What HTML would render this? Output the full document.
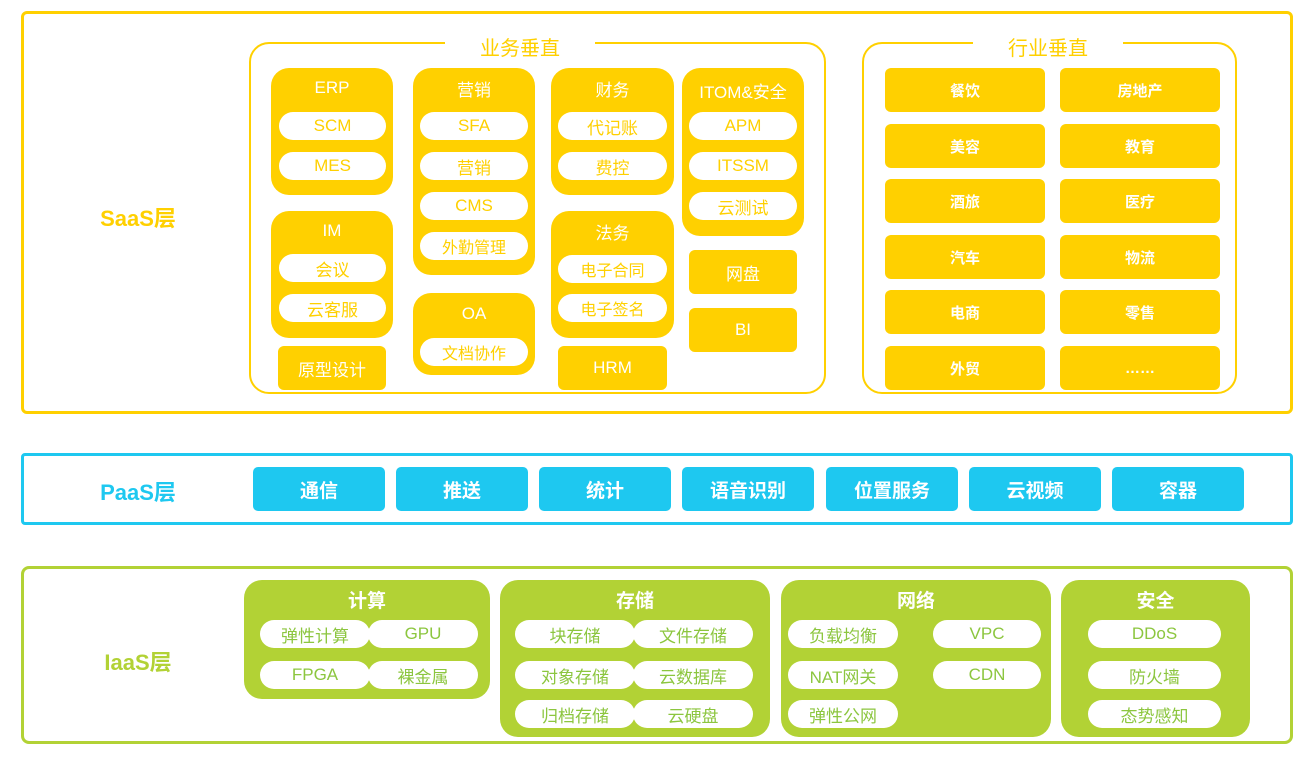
<!DOCTYPE html>
<html><head><meta charset="utf-8"><style>
*{margin:0;padding:0;box-sizing:border-box}
body{width:1316px;height:757px;background:#fff;position:relative;overflow:hidden;font-family:"Liberation Sans","Noto Sans CJK SC",sans-serif}
div{position:absolute}
.c{display:flex;align-items:center;justify-content:center;white-space:nowrap}
.y{background:#ffd000;color:#fff}
.yb{background:#ffd000;border-radius:18px}
.yp{background:#fff;color:#ffd000;border-radius:14px;font-size:17px;height:28px}
.ys{background:#ffd000;color:#fff;border-radius:6px;font-size:17px}
.yh{color:#fff;font-size:17px;height:24px}
.ind{background:#ffd000;color:#fff;border-radius:6px;font-weight:bold;font-size:15px;width:160px;height:44px}
.pa{background:#1ec8f0;color:#fff;border-radius:5px;font-weight:bold;font-size:19px;width:132px;height:44px;top:467px}
.g{background:#b2d235;border-radius:18px}
.gt{color:#fff;font-weight:bold;font-size:19px;height:24px;top:587px}
.gp{background:#fff;color:#8cc63f;border-radius:14px;font-size:17px;height:28px}
.lab{font-weight:bold;font-size:22px}
</style></head><body>
<!-- SaaS -->
<div style="left:21px;top:11px;width:1272px;height:403px;border:3px solid #ffd000;border-radius:6px"></div>
<div class="lab c" style="left:88px;top:202px;width:100px;height:30px;color:#ffd000">SaaS层</div>
<div style="left:249px;top:42px;width:577px;height:352px;border:2px solid #ffd000;border-radius:20px"></div>
<div class="c" style="left:445px;top:32px;width:150px;height:28px;background:#fff;color:#ffd000;font-size:20px">业务垂直</div>
<div style="left:862px;top:42px;width:375px;height:352px;border:2px solid #ffd000;border-radius:20px"></div>
<div class="c" style="left:973px;top:32px;width:150px;height:28px;background:#fff;color:#ffd000;font-size:20px">行业垂直</div>

<div class="yb" style="left:271px;top:68px;width:122px;height:127px"></div>
<div class="yh c" style="left:271px;top:76px;width:122px">ERP</div>
<div class="yp c" style="left:279px;top:112px;width:107px">SCM</div>
<div class="yp c" style="left:279px;top:152px;width:107px">MES</div>

<div class="yb" style="left:271px;top:211px;width:122px;height:127px"></div>
<div class="yh c" style="left:271px;top:219px;width:122px">IM</div>
<div class="yp c" style="left:279px;top:254px;width:107px">会议</div>
<div class="yp c" style="left:279px;top:294px;width:107px">云客服</div>
<div class="ys c" style="left:278px;top:346px;width:108px;height:44px">原型设计</div>

<div class="yb" style="left:413px;top:68px;width:122px;height:207px"></div>
<div class="yh c" style="left:413px;top:76px;width:122px">营销</div>
<div class="yp c" style="left:420px;top:112px;width:108px">SFA</div>
<div class="yp c" style="left:420px;top:152px;width:108px">营销</div>
<div class="yp c" style="left:420px;top:192px;width:108px">CMS</div>
<div class="yp c" style="left:420px;top:232px;width:108px;font-size:16px">外勤管理</div>
<div class="yb" style="left:413px;top:293px;width:122px;height:82px"></div>
<div class="yh c" style="left:413px;top:302px;width:122px">OA</div>
<div class="yp c" style="left:420px;top:338px;width:108px;font-size:16px">文档协作</div>

<div class="yb" style="left:551px;top:68px;width:123px;height:127px"></div>
<div class="yh c" style="left:551px;top:76px;width:123px">财务</div>
<div class="yp c" style="left:558px;top:112px;width:109px">代记账</div>
<div class="yp c" style="left:558px;top:152px;width:109px">费控</div>
<div class="yb" style="left:551px;top:211px;width:123px;height:127px"></div>
<div class="yh c" style="left:551px;top:219px;width:123px">法务</div>
<div class="yp c" style="left:558px;top:255px;width:109px;font-size:16px">电子合同</div>
<div class="yp c" style="left:558px;top:294px;width:109px;font-size:16px">电子签名</div>
<div class="ys c" style="left:558px;top:346px;width:109px;height:44px">HRM</div>

<div class="yb" style="left:682px;top:68px;width:122px;height:168px"></div>
<div class="yh c" style="left:682px;top:78px;width:122px">ITOM&amp;安全</div>
<div class="yp c" style="left:689px;top:112px;width:108px">APM</div>
<div class="yp c" style="left:689px;top:152px;width:108px">ITSSM</div>
<div class="yp c" style="left:689px;top:192px;width:108px">云测试</div>
<div class="ys c" style="left:689px;top:250px;width:108px;height:44px">网盘</div>
<div class="ys c" style="left:689px;top:308px;width:108px;height:44px">BI</div>

<div class="ind c" style="left:885px;top:68px">餐饮</div><div class="ind c" style="left:1060px;top:68px">房地产</div>
<div class="ind c" style="left:885px;top:124px">美容</div><div class="ind c" style="left:1060px;top:124px">教育</div>
<div class="ind c" style="left:885px;top:179px">酒旅</div><div class="ind c" style="left:1060px;top:179px">医疗</div>
<div class="ind c" style="left:885px;top:235px">汽车</div><div class="ind c" style="left:1060px;top:235px">物流</div>
<div class="ind c" style="left:885px;top:290px">电商</div><div class="ind c" style="left:1060px;top:290px">零售</div>
<div class="ind c" style="left:885px;top:346px">外贸</div><div class="ind c" style="left:1060px;top:346px">……</div>

<!-- PaaS -->
<div style="left:21px;top:453px;width:1272px;height:72px;border:3px solid #1ec8f0;border-radius:4px"></div>
<div class="lab c" style="left:88px;top:476px;width:100px;height:30px;color:#1ec8f0">PaaS层</div>
<div class="pa c" style="left:253px">通信</div>
<div class="pa c" style="left:396px">推送</div>
<div class="pa c" style="left:539px">统计</div>
<div class="pa c" style="left:682px">语音识别</div>
<div class="pa c" style="left:826px">位置服务</div>
<div class="pa c" style="left:969px">云视频</div>
<div class="pa c" style="left:1112px">容器</div>

<!-- IaaS -->
<div style="left:21px;top:566px;width:1272px;height:178px;border:3px solid #b2d235;border-radius:8px"></div>
<div class="lab c" style="left:88px;top:646px;width:100px;height:30px;color:#b2d235">IaaS层</div>

<div class="g" style="left:244px;top:580px;width:246px;height:119px"></div>
<div class="gt c" style="left:244px;width:246px">计算</div>
<div class="gp c" style="left:260px;top:620px;width:110px">弹性计算</div>
<div class="gp c" style="left:368px;top:620px;width:110px">GPU</div>
<div class="gp c" style="left:260px;top:661px;width:110px">FPGA</div>
<div class="gp c" style="left:368px;top:661px;width:110px">裸金属</div>

<div class="g" style="left:500px;top:580px;width:270px;height:157px"></div>
<div class="gt c" style="left:500px;width:270px">存储</div>
<div class="gp c" style="left:515px;top:620px;width:120px">块存储</div>
<div class="gp c" style="left:633px;top:620px;width:120px">文件存储</div>
<div class="gp c" style="left:515px;top:661px;width:120px">对象存储</div>
<div class="gp c" style="left:633px;top:661px;width:120px">云数据库</div>
<div class="gp c" style="left:515px;top:700px;width:120px">归档存储</div>
<div class="gp c" style="left:633px;top:700px;width:120px">云硬盘</div>

<div class="g" style="left:781px;top:580px;width:270px;height:157px"></div>
<div class="gt c" style="left:781px;width:270px">网络</div>
<div class="gp c" style="left:788px;top:620px;width:110px">负载均衡</div>
<div class="gp c" style="left:933px;top:620px;width:108px">VPC</div>
<div class="gp c" style="left:788px;top:661px;width:110px">NAT网关</div>
<div class="gp c" style="left:933px;top:661px;width:108px">CDN</div>
<div class="gp c" style="left:788px;top:700px;width:110px">弹性公网</div>

<div class="g" style="left:1061px;top:580px;width:189px;height:157px"></div>
<div class="gt c" style="left:1061px;width:189px">安全</div>
<div class="gp c" style="left:1088px;top:620px;width:133px">DDoS</div>
<div class="gp c" style="left:1088px;top:661px;width:133px">防火墙</div>
<div class="gp c" style="left:1088px;top:700px;width:133px">态势感知</div>
</body></html>
